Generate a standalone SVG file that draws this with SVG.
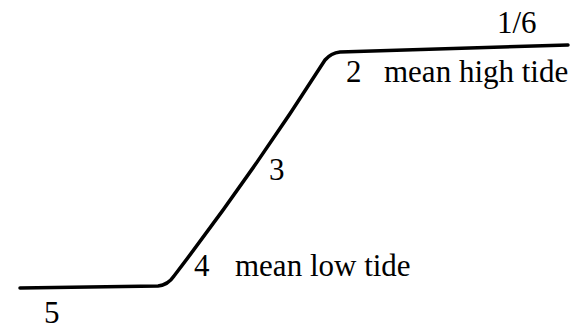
<svg xmlns="http://www.w3.org/2000/svg" width="581" height="329" viewBox="0 0 581 329">
<style>
.lbl{font-family:"Liberation Serif","Times New Roman",serif;font-size:31px;fill:#000}
.prof{fill:none;stroke:#000;stroke-width:3.5;stroke-linecap:round;stroke-linejoin:round}
</style>
<rect width="581" height="329" fill="#fff"/>
<g id="connectors">
<path class="prof" d="M20,288 L158,286 Q168,285 174,276 Q255,170 325,60 Q331,53 340,52 L568,45"/>
</g>
<g id="n1"><text class="lbl" x="497" y="33">1/6</text></g>
<g id="n2"><text class="lbl" x="346" y="82">2</text><text class="lbl" x="384" y="82">mean high tide</text></g>
<g id="n3"><text class="lbl" x="269" y="180">3</text></g>
<g id="n4"><text class="lbl" x="194" y="276">4</text><text class="lbl" x="235" y="276">mean low tide</text></g>
<g id="n5"><text class="lbl" x="44" y="323">5</text></g>
</svg>
